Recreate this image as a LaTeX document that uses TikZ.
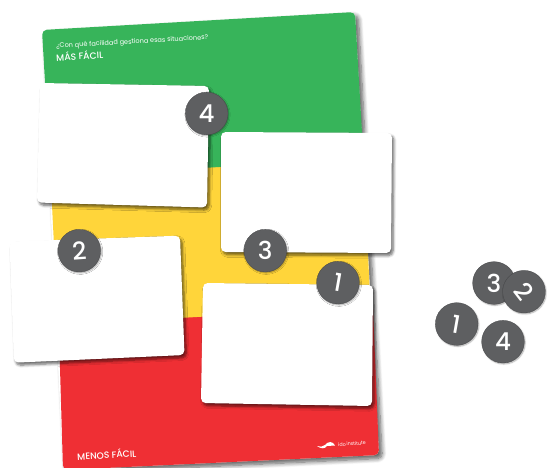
\documentclass[tikz,border=0pt]{standalone}
\usepackage{fontspec}
\setmainfont{Poppins}
\newfontfamily\medfont{Poppins Medium}
\usetikzlibrary{shadows.blur,calc}
\definecolor{pgreen}{HTML}{37B45A}
\definecolor{pyellow}{HTML}{FFD53A}
\definecolor{pred}{HTML}{EF2F34}
\definecolor{chip}{HTML}{5E5F61}
\tikzset{
 x=0.03cm,y=-0.03cm,
 postershape/.style={fill=white,rounded corners=1.4mm,blur shadow={shadow xshift=1mm,shadow yshift=-1mm,shadow blur radius=1.3mm,shadow blur steps=8,shadow opacity=65}},
 cardbox/.style={fill=white,rounded corners=1.4mm,blur shadow={shadow xshift=0.6mm,shadow yshift=-0.8mm,shadow blur radius=0.8mm,shadow blur steps=6,shadow opacity=60}},
 chipnode/.style={circle,fill=chip,draw=chip!75!black,line width=0.25pt,minimum size=1.28cm,inner sep=0pt,text=white,font=\medfont\fontsize{21}{21}\selectfont,blur shadow={shadow xshift=0.25mm,shadow yshift=-0.3mm,shadow blur radius=0.4mm,shadow blur steps=5,shadow opacity=35}},
 plabel/.style={text=white,anchor=west,inner sep=0pt}
}
\begin{document}
\begin{tikzpicture}
\useasboundingbox (0,0) rectangle (547,468);
% poster
\path[postershape] (42,30) -- (355,12) -- (379,455) -- (63,470) -- cycle;
\fill[pred,rounded corners=1.4mm] (58,300) -- (372,285) -- (379,455) -- (63,470) -- cycle;
\fill[pyellow] (50,165) -- (363,147) -- (370.5,307) -- (58,325) -- cycle;
\fill[pgreen,rounded corners=1.4mm] (42,30) -- (355,12) -- (363,150) -- (50,170) -- cycle;
\fill[pgreen] (49,150) -- (362,132) -- (362.8,158.5) -- (51,177) -- cycle;
\node[plabel,rotate=3.3,font=\fontsize{5.6}{6}\selectfont] (q) at (56,46.5) {¿Con qué facilidad gestiona esas situaciones?};
\node[plabel,rotate=3.3,font=\medfont\fontsize{7.8}{8}\selectfont] (mf) at (56,57) {MÁS FÁCIL};
\node[plabel,rotate=3.3,font=\medfont\fontsize{7.8}{8}\selectfont] (mn) at (77,456) {MENOS FÁCIL};
\node[plabel,rotate=3.3,font=\fontsize{4.1}{4}\selectfont] (ido) at (338,444.5) {ido\,institute};
\fill[white] (317,446) .. controls (320,447) and (323,447) .. (325,445) .. controls (328,441) and (333,441) .. (335,445.5) -- (327,446) .. controls (325,449) and (321,449) .. (317,446) -- cycle;
% cards
\path[cardbox] (40,83) -- (209,86) -- (207,207.5) -- (37,202.5) -- cycle;
\path[cardbox] (221,132) -- (392,133) -- (391,253) -- (221,252) -- cycle;
\path[cardbox] (9.5,241.6) -- (180,235.7) -- (184.5,355) -- (14,362.7) -- cycle;
\path[cardbox] (203,283) -- (373,285) -- (372,406) -- (201,403) -- cycle;
% chips
\node[chipnode] (c4) at (206.7,113.5) {4};
\node[chipnode] (c3) at (265.3,250.7) {3};
\node[chipnode,rotate=4] (c2) at (79.3,250.7) {2};
\node[chipnode,rotate=-10] (c1) at (338,282.7) {1};
\node[chipnode] (d3) at (494,283) {3};
\node[chipnode,rotate=-52] (d2) at (524,291.7) {2};
\node[chipnode,rotate=-10] (d1) at (456.7,324) {1};
\node[chipnode] (d4) at (503,341.7) {4};
\end{tikzpicture}
\end{document}
